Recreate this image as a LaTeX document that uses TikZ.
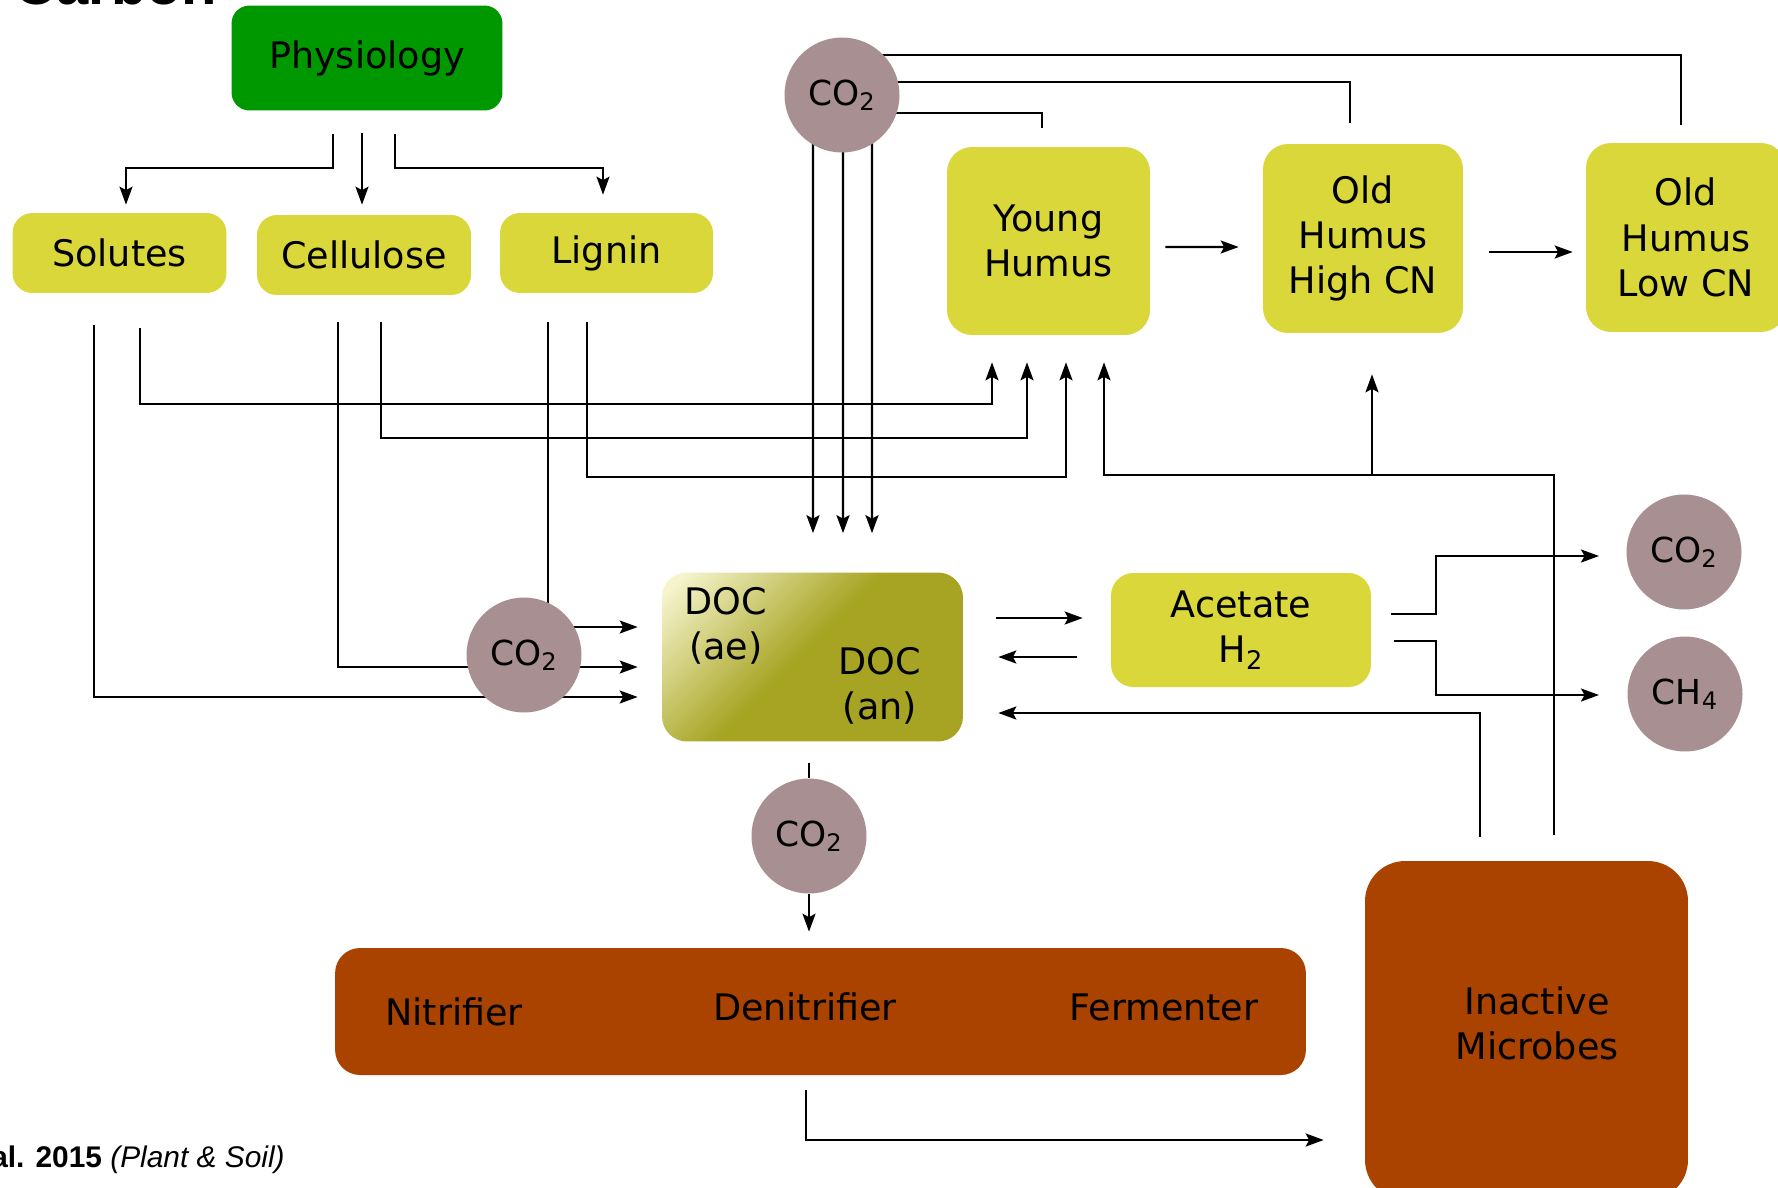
\documentclass[tikz,border=0pt]{standalone}
\usepackage{fontspec}
\setmainfont{DejaVu Sans}
\newfontfamily\arialf{Liberation Sans}
\usetikzlibrary{arrows.meta,calc}
\definecolor{cgreen}{RGB}{0,152,0}
\definecolor{cyel}{RGB}{217,215,58}
\definecolor{cmauve}{RGB}{168,143,146}
\definecolor{crust}{RGB}{170,67,0}
\definecolor{colive}{RGB}{166,164,34}
\definecolor{clight}{RGB}{246,244,204}
\pgfdeclareverticalshading{docsh}{100bp}{color(0bp)=(colive); color(52bp)=(colive); color(82bp)=(clight); color(100bp)=(clight)}
\pgfdeclarelayer{back}
\pgfdeclarelayer{bg}
\pgfsetlayers{back,bg,main}
\newcommand\myfs{\fontsize{20.8}{25.7}\selectfont}
\newcommand\cofs{\fontsize{19.6}{22}\selectfont}
\begin{document}
\begin{tikzpicture}[x=0.02cm,y=-0.02cm,
  ybox/.style={fill=cyel, rounded corners=0.4cm, inner sep=0pt, align=center, font=\myfs},
  pbox/.style={fill=cgreen, rounded corners=0.36cm, inner sep=0pt, align=center, font=\myfs},
  rbox/.style={fill=crust, rounded corners=0.5cm, inner sep=0pt},
  circ/.style={circle, fill=cmauve, minimum size=2.3cm, inner sep=0pt, font=\cofs},
  txt/.style={inner sep=0pt, align=center, font=\myfs},
  ln/.style={line width=0.045cm},
  arr/.style={line width=0.045cm, -{Stealth[length=0.36cm,width=0.26cm,inset=0.07cm]}}]
\useasboundingbox (0,0) rectangle (1778,1187);
\begin{pgfonlayer}{back}
\fill[white] (0,0) rectangle (1778,1187);
\end{pgfonlayer}
% title and citation
\node[anchor=base west, inner sep=0pt, font=\arialf\bfseries\fontsize{33}{36}\selectfont] (title) at (14,4) {Carbon};
\node[anchor=base east, inner sep=0pt, font=\arialf\fontsize{17}{20}\selectfont] (cite) at (285,1167) {\textbf{al. 2015} \textit{(Plant \& Soil)}};
% boxes
\node[pbox, minimum width=5.42cm, minimum height=2.1cm] (phys) at (367,58) {Physiology};
\node[ybox, minimum width=4.28cm, minimum height=1.6cm] (sol) at (119.5,253) {Solutes};
\node[ybox, minimum width=4.28cm, minimum height=1.6cm] (cel) at (364,255) {Cellulose};
\node[ybox, minimum width=4.26cm, minimum height=1.6cm] (lig) at (606.5,253) {Lignin};
\node[ybox, rounded corners=0.5cm, minimum width=4.06cm, minimum height=3.76cm] (yh) at (1048.5,241) {Young\\Humus};
\node[ybox, rounded corners=0.5cm, minimum width=4.0cm, minimum height=3.78cm] (ohh) at (1363,238.5) {Old\\Humus\\High CN};
\node[ybox, rounded corners=0.5cm, minimum width=4.0cm, minimum height=3.78cm] (ohl) at (1686,237.5) {Old\\Humus\\Low CN};
\node[shade, shading=docsh, shading angle=45, rounded corners=0.5cm, minimum width=6.02cm, minimum height=3.38cm, inner sep=0pt] (doc) at (812.5,657) {};
\node[txt] (docae) at (726,626) {DOC\\(ae)};
\node[txt] (docan) at (880,686) {DOC\\(an)};
\node[ybox, rounded corners=0.45cm, minimum width=5.2cm, minimum height=2.28cm] (ace) at (1241,630) {Acetate\\H\textsubscript{2}};
\node[rbox, minimum width=19.42cm, minimum height=2.54cm] (mic) at (820.5,1011.5) {};
\node[txt, anchor=base] (nit) at (454,1025) {Nitrifier};
\node[txt, anchor=base] (den) at (805,1020) {Denitrifier};
\node[txt, anchor=base] (fer) at (1164,1020) {Fermenter};
\node[rbox, rounded corners=0.8cm, minimum width=6.46cm, minimum height=6.78cm] (ina) at (1526.5,1030.5) {};
\node[txt] (inat) at (1537,1023) {Inactive\\Microbes};
% gas circles
\node[circ] (co2t) at (842,95) {CO\textsubscript{2}};
\node[circ] (co2l) at (524,655) {CO\textsubscript{2}};
\node[circ] (co2b) at (809,836) {CO\textsubscript{2}};
\node[circ] (co2r) at (1684,552) {CO\textsubscript{2}};
\node[circ] (ch4) at (1685,694) {CH\textsubscript{4}};
% connectors
\begin{pgfonlayer}{bg}
\draw[arr] ($(phys.south)+(-34,23)$) -- ++(0,34) -| ($(sol.north)+(6.5,-8)$);
\draw[arr] ($(phys.south)+(-5,22)$) -- ($(cel.north)+(-2,-10)$);
\draw[arr] ($(phys.south)+(28,23)$) -- ++(0,34) -| ($(lig.north)+(-3.5,-18)$);
\draw[ln] ($(co2t)+(0,-40)$) -| ($(ohl.north)+(-5,-18)$);
\draw[ln] ($(co2t)+(0,-13)$) -| ($(ohh.north)+(-13,-21)$);
\draw[ln] ($(co2t)+(0,18)$) -| ($(yh.north)+(-6.5,-19)$);
\draw[arr] ($(co2t)+(-29,0)$) -- ($(doc.north)+(0.5,-39)$);
\draw[arr] ($(co2t)+(1,0)$) -- ($(doc.north)+(30.5,-39)$);
\draw[arr] ($(co2t)+(30,0)$) -- ($(doc.north)+(59.5,-39)$);
\draw[arr] ($(sol.south)+(20.5,35)$) |- ($(yh.south)+(-56.5,69)$) -- ($(yh.south)+(-56.5,27)$);
\draw[arr] ($(cel.south)+(17,27)$) |- ($(yh.south)+(-21.5,103)$) -- ($(yh.south)+(-21.5,27)$);
\draw[arr] ($(lig.south)+(-19.5,29)$) |- ($(yh.south)+(17.5,142)$) -- ($(yh.south)+(17.5,27)$);
\draw[arr] ($(sol.south)+(-25.5,32)$) |- ($(doc.west)+(-24,40)$);
\draw[arr] ($(cel.south)+(-26,27)$) |- ($(doc.west)+(-24,10)$);
\draw[ln] ($(lig.south)+(-58.5,29)$) -- ($(co2l)+(24,0)$);
\draw[arr] ($(co2l)+(0,-28)$) -- ($(doc.west)+(-24,-30)$);
\draw[arr] ($(ina.north)+(27.5,-26)$) |- ($(yh.south)+(55.5,140)$) -- ($(yh.south)+(55.5,27)$);
\draw[arr] ($(ohh.south)+(9,142)$) -- ($(ohh.south)+(9,41)$);
\draw[arr] ($(ina.north)+(-46.5,-24)$) |- ($(doc.east)+(35,56)$);
\draw[arr] ($(doc.east)+(33,-39)$) -- ($(ace.west)+(-28,-12)$);
\draw[arr] ($(ace.west)+(-34,27)$) -- ($(doc.east)+(35,0)$);
\draw[arr] ($(ace.east)+(20,-16)$) -- ++(45,0) |- ($(co2r)+(-85,4)$);
\draw[arr] ($(ace.east)+(23,11)$) -- ++(42,0) |- ($(ch4)+(-86,1)$);
\draw[ln] ($(doc.south)+(-3.5,21)$) -- (co2b);
\draw[arr] (co2b) -- ($(mic.north)+(-11.5,-16)$);
\draw[arr] ($(mic.south)+(-14.5,15)$) |- ($(ina.west)+(-41,109.5)$);
\draw[arr] ($(yh.east)+(15,6)$) -- ($(ohh.west)+(-24,8.5)$);
\draw[arr] ($(ohh.east)+(26,13.5)$) -- ($(ohl.west)+(-13,14.5)$);
\end{pgfonlayer}
\end{tikzpicture}
\end{document}
